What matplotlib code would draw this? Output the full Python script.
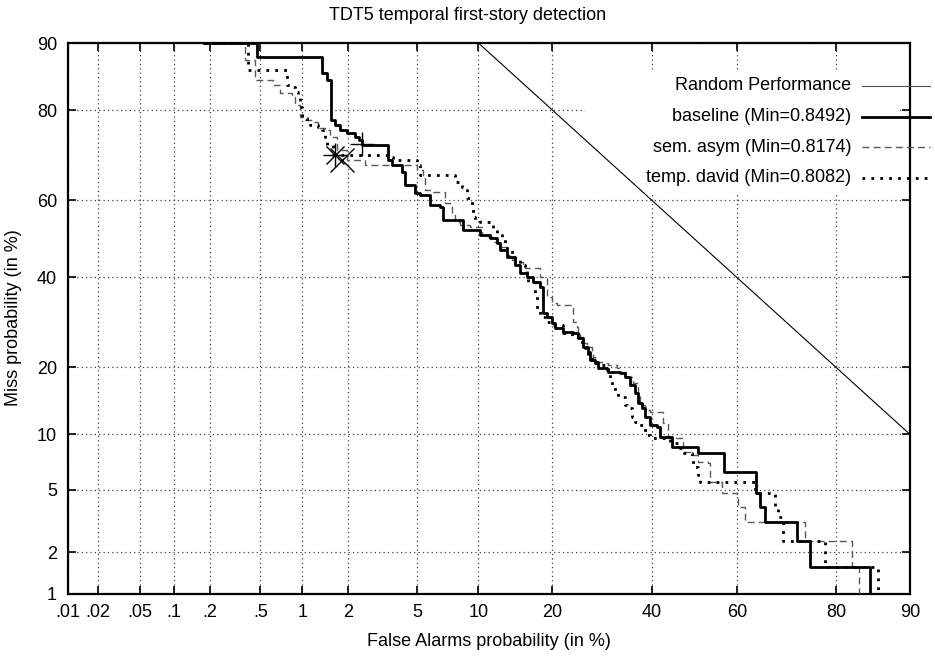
import math
import numpy as np
import matplotlib
matplotlib.use("Agg")
import matplotlib.pyplot as plt
from matplotlib.patches import Rectangle
from matplotlib.lines import Line2D

# DET curves, values in percent (false alarm, miss), drawn as steps
baseline_fa = [0.18, 0.47, 1.35, 1.46, 1.55, 1.64, 1.77, 1.96, 2.20, 2.32, 2.42,
               3.45, 3.63, 4.13, 4.29, 4.87, 5.17, 5.83, 6.55, 6.78, 7.59, 8.49,
               9.34, 10.17, 11.26, 12.06, 12.42, 13.31, 14.34, 15.03, 16.03, 16.90,
               17.98, 18.46, 19.08, 19.90, 20.41, 21.77, 23.58, 24.51, 25.43, 26.40,
               26.80, 27.76, 28.37, 30.22, 30.43, 32.96, 34.05, 35.12, 36.24, 36.92,
               37.83, 38.48, 39.63, 41.25, 41.92, 44.75, 50.9, 57.0, 64.3, 65.2,
               66.3, 72.9, 75.4, 85.2]
baseline_miss = [90, 88.3, 86.1, 85.1, 78.2, 77.2, 76.2, 75.6, 74.7, 74.1, 73.0,
                 69.7, 68.5, 66.9, 63.7, 61.8, 61.3, 58.7, 58.2, 54.9, 54.9, 52.3,
                 52.3, 51.0, 50.2, 48.9, 47.1, 45.2, 43.2, 41.1, 40.1, 38.8,
                 37.6, 31.3, 30.4, 29.0, 27.9, 27.1, 26.8, 25.8, 23.9, 22.9,
                 21.3, 20.8, 19.9, 19.5, 19.1, 19.0, 18.3, 16.9, 15.6, 14.1,
                 13.4, 12.1, 11.1, 10.9, 9.7, 8.6, 8.0, 6.3, 4.8, 3.95,
                 3.18, 2.39, 1.58, 1.0]

semasym_fa = [0.18, 0.38, 0.455, 0.618, 0.695, 0.845, 0.887, 0.96, 1.04, 1.18, 1.27,
              1.42, 1.53, 1.70, 1.96, 2.53, 4.98, 5.36, 5.49, 6.04, 6.94, 7.35,
              7.51, 7.77, 8.21, 9.15, 10.37, 10.92, 11.60, 12.42, 13.31, 13.95,
              14.62, 15.46, 15.74, 17.98, 19.08, 19.90, 20.75, 23.58, 24.31, 24.51,
              24.87, 25.43, 26.21, 27.18, 27.38, 27.76, 29.18, 30.43, 32.31, 32.96,
              34.48, 35.80, 36.92, 37.36, 38.48, 39.63, 42.63, 43.80, 47.3, 49.7,
              50.9, 53.2, 53.7, 56.5, 60.0, 60.2, 61.8, 74.4, 82.6, 83.6]
semasym_miss = [90, 87.9, 85.1, 84.3, 83.0, 82.3, 80.9, 78.7, 78.2, 77.8, 76.6,
                76.2, 74.7, 71.9, 69.7, 68.5, 67.4, 66.2, 62.5, 62.0, 59.2, 58.7,
                56.2, 54.4, 53.6, 53.1, 51.0, 50.4, 49.1, 47.8, 45.8, 44.5,
                43.9, 43.2, 42.4, 40.1, 35.1, 33.7, 33.2, 29.3, 28.2, 27.1,
                26.0, 24.7, 23.9, 22.9, 21.9, 21.0, 20.8, 20.4, 19.9, 19.1,
                18.3, 17.2, 15.3, 13.8, 13.1, 12.8, 11.4, 9.6, 8.12, 7.83,
                7.18, 7.09, 5.56, 4.8, 4.54, 3.95, 3.18, 2.39, 1.58, 1.0]

david_fa = [0.18, 0.40, 0.78, 0.818, 0.887, 0.93, 0.96, 0.99, 1.07, 1.12, 1.27,
            1.35, 1.42, 1.46, 1.60, 3.45, 3.68, 4.98, 5.17, 7.77, 8.39, 8.86,
            9.34, 9.44, 9.64, 10.17, 11.60, 12.06, 12.68, 13.05, 13.31, 13.95,
            14.34, 15.03, 15.74, 16.03, 16.17, 17.21, 17.52, 17.98, 18.77, 19.90,
            21.77, 23.39, 24.51, 25.2, 25.8, 26.40, 27.18, 27.76, 28.77, 30.43,
            30.84, 31.26, 31.89, 32.53, 34.05, 34.48, 35.58, 36.24, 36.92, 38.04,
            38.94, 39.63, 44.27, 46.15, 47.1, 49.5, 49.7, 50.9, 51.4, 64.1,
            68.4, 69.0, 70.1, 78.1, 86.2]
david_miss = [90, 86.5, 84.3, 84.0, 83.2, 82.3, 80.6, 78.5, 77.8, 77.2, 76.8,
              76.2, 74.7, 73.0, 70.8, 70.4, 69.7, 68.5, 66.2, 64.5, 63.3, 60.5,
              58.0, 55.7, 54.9, 54.4, 52.3, 51.0, 50.2, 48.9, 47.1, 45.8,
              45.0, 43.2, 42.4, 40.1, 38.8, 36.1, 32.0, 30.4, 29.3, 28.6,
              26.8, 26.0, 25.3, 24.3, 23.7, 21.9, 21.3, 21.0, 20.4, 19.0,
              18.1, 16.9, 15.6, 15.0, 13.8, 13.4, 12.1, 11.5, 11.1, 10.5,
              9.93, 9.6, 9.05, 8.52, 8.0, 7.55, 6.74, 6.09, 5.56, 4.8,
              3.95, 3.42, 2.39, 1.58, 1.0]

random_fa = [10, 90]
random_miss = [90, 10]

# minimum cost points
plus_pt = (2.42, 73.2)
star_pt = (1.64, 70.8)
cross_pt = (1.82, 69.7)

fa_ticks = [0.01, 0.02, 0.05, 0.1, 0.2, 0.5, 1, 2, 5, 10, 20, 40, 60, 80, 90]
fa_labels = ['.01', '.02', '.05', '.1', '.2', '.5', '1', '2', '5', '10', '20',
             '40', '60', '80', '90']
miss_ticks = [1, 2, 5, 10, 20, 40, 60, 80, 90]
miss_labels = ['1', '2', '5', '10', '20', '40', '60', '80', '90']

legend_labels = ['Random Performance', 'baseline (Min=0.8492)',
                 'sem. asym (Min=0.8174)', 'temp. david (Min=0.8082)']

# normal deviate scale (Acklam's approximation of the inverse normal cdf)
A = [-3.969683028665376e+01, 2.209460984245205e+02, -2.759285104469687e+02,
     1.383577518672690e+02, -3.066479806614716e+01, 2.506628277459239e+00]
B = [-5.447609879822406e+01, 1.615858368580409e+02, -1.556989798598866e+02,
     6.680131188771972e+01, -1.328068155288572e+01]
C = [-7.784894002430293e-03, -3.223964580411365e-01, -2.400758277161838e+00,
     -2.549732539343734e+00, 4.374664141464968e+00, 2.938163982698783e+00]
D = [7.784695709041462e-03, 3.224671290700398e-01, 2.445134137142996e+00,
     3.754408661907416e+00]
PLOW = 0.02425


def _tail(q):
    num = ((((C[0]*q + C[1])*q + C[2])*q + C[3])*q + C[4])*q + C[5]
    den = (((D[0]*q + D[1])*q + D[2])*q + D[3])*q + 1
    return num / den


def probit(pct):
    shape = np.shape(pct)
    p = np.atleast_1d(np.asarray(pct, dtype=float)).ravel() / 100.0
    p = np.clip(p, 1e-12, 1 - 1e-12)
    x = np.full_like(p, np.nan)
    lo = p < PLOW
    hi = p > 1 - PLOW
    mid = ~(lo | hi) & np.isfinite(p)
    x[lo] = _tail(np.sqrt(-2 * np.log(p[lo])))
    x[hi] = -_tail(np.sqrt(-2 * np.log(1 - p[hi])))
    q = p[mid] - 0.5
    r = q * q
    x[mid] = (((((A[0]*r + A[1])*r + A[2])*r + A[3])*r + A[4])*r + A[5]) * q / \
             (((((B[0]*r + B[1])*r + B[2])*r + B[3])*r + B[4])*r + 1)
    return x.reshape(shape)


_erf = np.vectorize(math.erf, otypes=[float])


def inv_probit(z):
    z = np.asarray(z, dtype=float)
    return 50.0 * (1.0 + _erf(z / math.sqrt(2.0)))


plt.rcParams['font.family'] = ['Liberation Sans', 'DejaVu Sans']
plt.rcParams['font.size'] = 13

fig = plt.figure(figsize=(9.35, 6.58), dpi=100)
ax = fig.add_axes([68/935, 64/658, 842/935, 551/658])
ax.set_xscale('function', functions=(probit, inv_probit))
ax.set_yscale('function', functions=(probit, inv_probit))
ax.set_xlim(0.01, 90)
ax.set_ylim(1, 90)

ax.set_xticks(fa_ticks)
ax.set_xticklabels(fa_labels)
ax.set_yticks(miss_ticks)
ax.set_yticklabels(miss_labels)
ax.minorticks_off()
ax.tick_params(direction='in', length=6, width=1.2, top=True, right=True,
               labelsize=13)
ax.tick_params(axis='x', pad=7)
ax.tick_params(axis='y', pad=8)
for s in ax.spines.values():
    s.set_linewidth(1.6)

ax.set_axisbelow(True)
ax.grid(True, color='0.25', linestyle=(0, (1, 2.5)), linewidth=0.9)

# opaque key area
ax.add_patch(Rectangle((0.614, 0.728), 0.374, 0.223, transform=ax.transAxes,
                       facecolor='white', edgecolor='none', zorder=1))

ax.plot(random_fa, random_miss, color='black', lw=0.8, zorder=3)
ax.plot(baseline_fa, baseline_miss, drawstyle='steps-post', color='black',
        lw=2.0, zorder=4)
ax.plot(semasym_fa, semasym_miss, drawstyle='steps-post', color='0.35',
        lw=1.0, linestyle=(0, (5, 3)), zorder=3)
ax.plot(david_fa, david_miss, drawstyle='steps-post', color='black',
        lw=2.0, linestyle=(0, (1, 2.2)), zorder=3)

mk = dict(color='black', mew=1.0, ms=17, linestyle='none', zorder=5)
ax.plot([plus_pt[0]], [plus_pt[1]], marker='+', **mk)
ax.plot([star_pt[0]], [star_pt[1]], marker='+', **mk)
ax.plot([star_pt[0]], [star_pt[1]], marker='x', color='black', mew=1.0, ms=13,
        linestyle='none', zorder=5)
ax.plot([cross_pt[0]], [cross_pt[1]], marker='x', **mk)

# key, samples on the right of the text
styles = [dict(color='0.3', lw=0.8),
          dict(color='black', lw=2.0),
          dict(color='0.35', lw=1.0, linestyle=(0, (5, 3))),
          dict(color='black', lw=2.0, linestyle=(0, (1, 2.2)))]
rows = [0.922, 0.866, 0.811, 0.755]
for lab, st, yy in zip(legend_labels, styles, rows):
    ax.text(0.930, yy, lab, transform=ax.transAxes, ha='right', va='center',
            fontsize=13, zorder=6)
    ax.add_line(Line2D([0.943, 1.024], [yy, yy], transform=ax.transAxes,
                       clip_on=False, zorder=6, **st))

fig.text(0.5, 1 - 16/658, 'TDT5 temporal first-story detection',
         ha='center', va='center', fontsize=13)
fig.text(489/935, 1 - 641/658, 'False Alarms probability (in %)',
         ha='center', va='center', fontsize=13)
fig.text(14/935, 1 - 318/658, 'Miss probability (in %)', rotation=90,
         ha='center', va='center', fontsize=13)

fig.savefig('out.png', dpi=100)
